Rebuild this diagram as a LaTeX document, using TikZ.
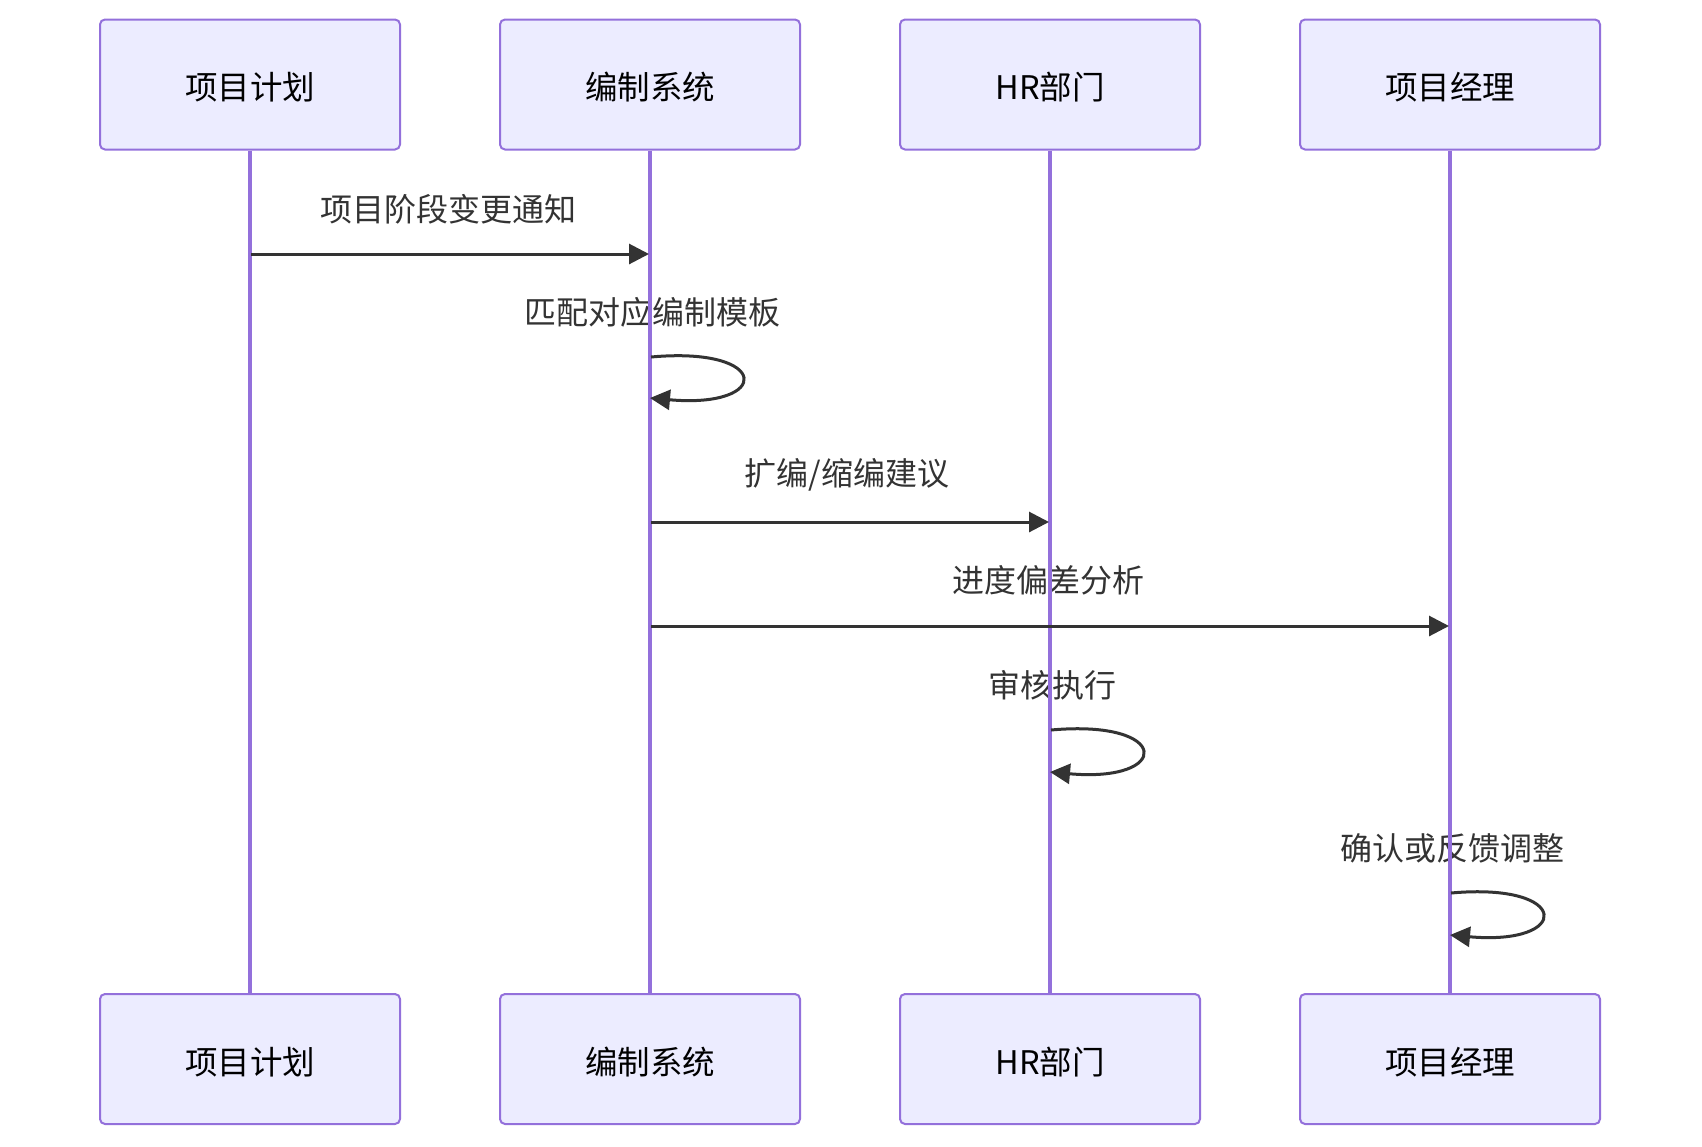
\documentclass[tikz,border=0pt]{standalone}
\usepackage{fontspec}
\setmainfont{Noto Sans CJK SC}
\usetikzlibrary{arrows.meta}
\definecolor{lifec}{HTML}{9370DB}
\definecolor{boxfill}{HTML}{ECECFF}
\definecolor{msgc}{HTML}{333333}
\tikzset{
  actor/.style={draw=lifec, fill=boxfill, line width=2pt, rounded corners=5pt,
    minimum width=300pt, minimum height=130pt, inner sep=0pt, font=\fontsize{32.5}{38}\selectfont, text=black},
  actortext/.style={font=\fontsize{32.5}{38}\selectfont, text=black, inner sep=0pt},
  lifeline/.style={draw=lifec, line width=3.5pt},
  msglabel/.style={font=\fontsize{32}{38}\selectfont, text=msgc, inner sep=0pt},
  msg/.style={draw=msgc, line width=3pt, -{Triangle[length=20pt,width=20pt]}},
}
\begin{document}
\begin{tikzpicture}[x=1pt,y=-1pt]
\useasboundingbox (0,0) rectangle (1702,1146);
% actors top
\node[actor] (p1) at (250,84.5) {};
\node[actor] (p2) at (650,84.5) {};
\node[actor] (p3) at (1050,84.5) {};
\node[actor] (p4) at (1450,84.5) {};
\node[actortext] (t1) at (250,87.5) {项目计划};
\node[actortext] (t2) at (650,87.5) {编制系统};
\node[actortext] (t3) at (1050,87.5) {HR部门};
\node[actortext] (t4) at (1450,87.5) {项目经理};
% actors bottom
\node[actor] (q1) at (250,1059) {};
\node[actor] (q2) at (650,1059) {};
\node[actor] (q3) at (1050,1059) {};
\node[actor] (q4) at (1450,1059) {};
\node[actortext] (u1) at (250,1062) {项目计划};
\node[actortext] (u2) at (650,1062) {编制系统};
\node[actortext] (u3) at (1050,1062) {HR部门};
\node[actortext] (u4) at (1450,1062) {项目经理};
% labels
\node[msglabel] (l1) at (448,209) {项目阶段变更通知};
\node[msglabel] (l2) at (652,312) {匹配对应编制模板};
\node[msglabel] (l3) at (847,475) {扩编/缩编建议};
\node[msglabel] (l4) at (1048,580) {进度偏差分析};
\node[msglabel] (l5) at (1052,685) {审核执行};
\node[msglabel] (l6) at (1452,848) {确认或反馈调整};
% lifelines
\draw[lifeline] (p1.south) -- (q1.north);
\draw[lifeline] (p2.south) -- (q2.north);
\draw[lifeline] (p3.south) -- (q3.north);
\draw[lifeline] (p4.south) -- (q4.north);
% message anchors
\coordinate (m1a) at (251,254);
\coordinate (m1b) at (649,254);
\coordinate (s1a) at (651,357);
\coordinate (s1b) at (650,398);
\coordinate (m3a) at (651,522);
\coordinate (m3b) at (1049,522);
\coordinate (m4a) at (651,626);
\coordinate (m4b) at (1449,626);
\coordinate (s5a) at (1051,730);
\coordinate (s5b) at (1050,772);
\coordinate (s6a) at (1451,893);
\coordinate (s6b) at (1450,935);
% messages
\draw[msg] (m1a) -- (m1b);
\draw[msg] (s1a) .. controls (772,346) and (772,409) .. (s1b);
\draw[msg] (m3a) -- (m3b);
\draw[msg] (m4a) -- (m4b);
\draw[msg] (s5a) .. controls (1172,719) and (1172,783) .. (s5b);
\draw[msg] (s6a) .. controls (1572,882) and (1572,946) .. (s6b);
\end{tikzpicture}
\end{document}
